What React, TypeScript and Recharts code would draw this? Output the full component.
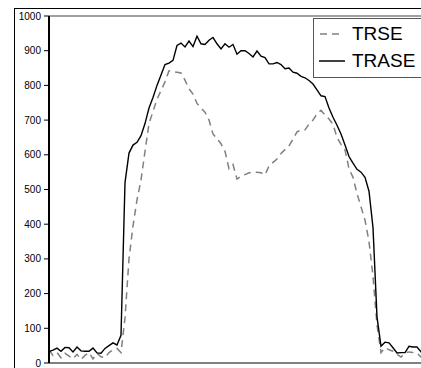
import React from 'react';
import { LineChart, Line, XAxis, YAxis, ReferenceLine } from 'recharts';

const steps: number[] = Array.from({ length: 101 }, (_, i) => i);

const trase: number[] = [
  33, 37, 43, 34, 45, 44, 32, 46, 35, 34,
  34, 43, 29, 28, 42, 50, 58, 52, 80, 520,
  605, 628, 636, 655, 690, 735, 765, 800, 830, 860,
  864, 872, 915, 922, 911, 928, 912, 942, 920, 918,
  930, 938, 920, 905, 920, 910, 918, 890, 900, 900,
  892, 882, 899, 884, 880, 862, 862, 866, 860, 848,
  850, 838, 835, 826, 822, 814, 804, 787, 770, 768,
  735, 708, 685, 660, 628, 595, 576, 558, 550, 535,
  495, 390, 133, 48, 60, 58, 44, 29, 30, 30,
  48, 46, 46, 32, 40, 28, 35, 44, 30, 38, 33,
];

const trse: number[] = [
  38, 22, 30, 15, 28, 20, 12, 25, 10, 22,
  30, 12, 28, 18, 15, 30, 38, 42, 30, 130,
  300, 395, 470, 527, 610, 690, 725, 760, 785, 810,
  842, 840, 838, 836, 815, 790, 775, 748, 735, 723,
  700, 660, 646, 632, 610, 560, 572, 530, 538, 543,
  548, 548, 550, 548, 542, 568, 578, 588, 604, 615,
  626, 645, 666, 671, 672, 688, 700, 718, 728, 715,
  703, 688, 650, 630, 614, 560, 535, 488, 450, 412,
  350, 250, 110, 30, 44, 38, 34, 25, 17, 29,
  32, 30, 29, 17, 25, 15, 30, 20, 28, 18, 24,
];

const yTicks: number[] = [0, 100, 200, 300, 400, 500, 600, 700, 800, 900, 1000];
const seriesNames: string[] = ['TRSE', 'TRASE'];

const data = steps.map((t, i) => ({ t, trse: trse[i], trase: trase[i] }));

const FONT = '"Liberation Sans", Arial, sans-serif';

export default function App() {
  return (
    <div
      style={{
        position: 'absolute',
        left: 0,
        top: 0,
        width: 421,
        height: 368,
        overflow: 'hidden',
        background: '#fff',
      }}
    >
      <div
        style={{
          position: 'absolute',
          left: 14,
          top: 8,
          width: 500,
          height: 400,
          border: '1px solid #000',
        }}
      />
      <div style={{ position: 'absolute', left: 0, top: 0 }}>
        <LineChart
          width={449}
          height={380}
          data={data}
          margin={{ top: 16, right: 0, left: 9, bottom: 17 }}
        >
          <XAxis dataKey="t" type="number" domain={[0, 100]} hide />
          <YAxis
            type="number"
            domain={[0, 1000]}
            ticks={yTicks}
            interval={0}
            width={40}
            tickSize={5}
            tickMargin={3}
            axisLine={{ stroke: '#000', strokeWidth: 2 }}
            tickLine={{ stroke: '#000', strokeWidth: 1 }}
            tick={{ fill: '#000', fontSize: 10, fontFamily: FONT }}
          />
          <ReferenceLine y={1000} stroke="#808080" strokeWidth={1.5} />
          <ReferenceLine y={0} stroke="#808080" strokeWidth={2} />
          <Line
            type="linear"
            dataKey="trse"
            stroke="#808080"
            strokeWidth={1.5}
            strokeDasharray="7 5"
            dot={false}
            isAnimationActive={false}
          />
          <Line
            type="linear"
            dataKey="trase"
            stroke="#000"
            strokeWidth={1.4}
            dot={false}
            isAnimationActive={false}
          />
        </LineChart>
      </div>
      <div
        style={{
          position: 'absolute',
          left: 313,
          top: 18,
          width: 130,
          height: 58,
          border: '1px solid #555',
          background: '#fff',
          fontFamily: FONT,
          fontSize: 19,
          color: '#000',
        }}
      >
        <div style={{ position: 'absolute', left: 6, top: 4, display: 'flex', alignItems: 'center', height: 22 }}>
          <svg width={24} height={4} style={{ display: 'block' }}>
            <line x1={0} y1={2} x2={24} y2={2} stroke="#808080" strokeWidth={1.5} strokeDasharray="7 5" />
          </svg>
          <span style={{ marginLeft: 8, lineHeight: '22px' }}>{seriesNames[0]}</span>
        </div>
        <div style={{ position: 'absolute', left: 5, top: 31, display: 'flex', alignItems: 'center', height: 22 }}>
          <svg width={26} height={4} style={{ display: 'block' }}>
            <line x1={0} y1={2} x2={26} y2={2} stroke="#000" strokeWidth={1.5} />
          </svg>
          <span style={{ marginLeft: 7, lineHeight: '22px' }}>{seriesNames[1]}</span>
        </div>
      </div>
    </div>
  );
}
